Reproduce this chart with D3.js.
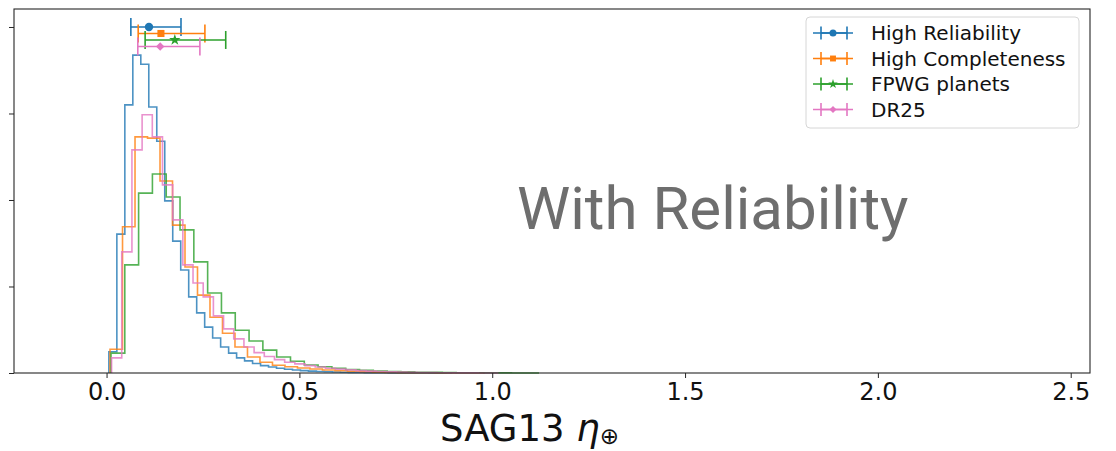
<!DOCTYPE html>
<html>
<head>
<meta charset="utf-8">
<script src="https://cdn.jsdelivr.net/npm/d3@7"></script>
<style>
  html, body { margin: 0; padding: 0; background: #fff; }
  svg { display: block; }
</style>
</head>
<body>
<svg id="chart" width="1116" height="451"></svg>
<script>
// Posterior distributions of SAG13 eta-Earth for four catalogue choices
const seriesNames = ["High Reliability", "High Completeness", "FPWG planets", "DR25"];
const seriesColors = ["#1f77b4", "#ff7f0e", "#2ca02c", "#e377c2"];

// histogram bins: first edge and width per series (eta units)
const binStart = [0.006, 0.009, 0.0115, 0.013];
const binWidth = [0.0207, 0.0324, 0.0358, 0.0264];

// normalised histogram heights (probability density)
const densHighReliability = [0.49, 3.21, 6.20, 7.35, 7.14, 6.15, 5.36, 3.98, 3.05, 2.38, 1.76, 1.39, 1.06, 0.81,
  0.60, 0.46, 0.35, 0.28, 0.22, 0.17, 0.14, 0.11, 0.086, 0.069, 0.055, 0.044, 0.035, 0.028, 0.022, 0.017,
  0.014, 0.010, 0.008, 0.006, 0.005, 0.003, 0.003, 0.002, 0.002, 0.001, 0.001, 0.001, 0.0];
const densHighCompleteness = [0.55, 3.38, 5.46, 5.43, 4.44, 3.42, 2.45, 1.80, 1.29, 0.92, 0.60, 0.37, 0.25,
  0.18, 0.146, 0.116, 0.092, 0.069, 0.053, 0.039, 0.028, 0.021, 0.014, 0.009, 0.007, 0.005, 0.003, 0.002, 0.001, 0.0];
const densFPWG = [0.46, 2.50, 4.16, 4.60, 4.07, 3.31, 2.57, 1.85, 1.39, 0.99, 0.74, 0.53, 0.37, 0.27, 0.185,
  0.146, 0.109, 0.081, 0.062, 0.046, 0.035, 0.025, 0.018, 0.014, 0.010, 0.007, 0.005, 0.003, 0.002, 0.001, 0.0];
const densDR25 = [0.35, 2.80, 5.16, 5.97, 5.46, 4.35, 3.54, 2.50, 2.08, 1.76, 1.32, 1.02, 0.79, 0.60, 0.47,
  0.38, 0.31, 0.25, 0.21, 0.17, 0.14, 0.11, 0.09, 0.072, 0.055, 0.044, 0.035, 0.025, 0.020, 0.015, 0.012,
  0.009, 0.006, 0.004, 0.003, 0.002, 0.001, 0.0];
const densities = [densHighReliability, densHighCompleteness, densFPWG, densDR25];

// median and credible interval of eta-Earth per series, drawn as error bars
const etaMedian = [0.110, 0.141, 0.177, 0.139];
const etaLow = [0.063, 0.082, 0.100, 0.081];
const etaHigh = [0.193, 0.255, 0.309, 0.242];
const errLevel = [8.0, 7.85, 7.7, 7.55];
const markerShapes = ["circle", "square", "star", "diamond"];

// axis ticks
const xTicks = [0.0, 0.5, 1.0, 1.5, 2.0, 2.5];
const yTicks = [0, 2, 4, 6, 8];

const svg = d3.select("#chart");
const plot = { left: 14, right: 1090, top: 9, bottom: 373 };

const x = d3.scaleLinear().domain([-0.24, 2.55]).range([plot.left, plot.right]);
const y = d3.scaleLinear().domain([0, 8.416]).range([plot.bottom, plot.top]);

// step outlines (histtype="step")
const stepLine = d3.line().x(d => x(d[0])).y(d => y(d[1]));
function stepPoints(start, width, heights) {
  const pts = [[start, 0]];
  heights.forEach((h, i) => {
    pts.push([start + i * width, h]);
    pts.push([start + (i + 1) * width, h]);
  });
  pts.push([start + heights.length * width, 0]);
  return pts;
}

const hist = svg.append("g");
densities.forEach((dens, i) => {
  hist.append("path")
    .attr("d", stepLine(stepPoints(binStart[i], binWidth[i], dens)))
    .attr("fill", "none")
    .attr("stroke", seriesColors[i])
    .attr("stroke-opacity", 0.8)
    .attr("stroke-width", 1.6)
    .attr("stroke-linejoin", "miter");
});

// marker symbols
function symbolFor(shape, size) {
  if (shape === "circle") return d3.symbol().type(d3.symbolCircle).size(size)();
  if (shape === "square") return d3.symbol().type(d3.symbolSquare).size(size)();
  if (shape === "star") return d3.symbol().type(d3.symbolStar).size(size)();
  return d3.symbol().type(d3.symbolSquare).size(size)();
}
const markerSize = [55, 50, 40, 36];

function drawErrorbar(g, cx, lo, hi, cy, capHalf, i, scaleMarker) {
  g.append("line").attr("x1", lo).attr("x2", hi).attr("y1", cy).attr("y2", cy)
    .attr("stroke", seriesColors[i]).attr("stroke-width", 1.6);
  [lo, hi].forEach(px => {
    g.append("line").attr("x1", px).attr("x2", px).attr("y1", cy - capHalf).attr("y2", cy + capHalf)
      .attr("stroke", seriesColors[i]).attr("stroke-width", 1.6);
  });
  g.append("path")
    .attr("d", symbolFor(markerShapes[i], markerSize[i] * scaleMarker))
    .attr("transform", `translate(${cx},${cy})` + (markerShapes[i] === "diamond" ? " rotate(45)" : ""))
    .attr("fill", seriesColors[i]);
}

const errs = svg.append("g");
etaMedian.forEach((m, i) => {
  drawErrorbar(errs, x(m), x(etaLow[i]), x(etaHigh[i]), y(errLevel[i]), 9, i, 1);
});

// frame
svg.append("rect")
  .attr("x", plot.left).attr("y", plot.top)
  .attr("width", plot.right - plot.left).attr("height", plot.bottom - plot.top)
  .attr("fill", "none").attr("stroke", "#262626").attr("stroke-width", 1.1);

// axes
const xAxis = svg.append("g")
  .attr("transform", `translate(0,${plot.bottom})`)
  .call(d3.axisBottom(x).tickValues(xTicks).tickFormat(d3.format(".1f")).tickSize(5).tickPadding(5));
xAxis.select(".domain").remove();
xAxis.selectAll("line").attr("stroke", "#262626");
xAxis.selectAll("text")
  .attr("font-family", "DejaVu Sans")
  .attr("font-size", 24)
  .attr("fill", "#111");

const yAxis = svg.append("g")
  .attr("transform", `translate(${plot.left},0)`)
  .call(d3.axisLeft(y).tickValues(yTicks).tickFormat("").tickSize(5));
yAxis.select(".domain").remove();
yAxis.selectAll("line").attr("stroke", "#262626");

// axis title: SAG13 eta with Earth subscript
const title = svg.append("text")
  .attr("x", 440).attr("y", 441)
  .attr("font-family", "DejaVu Sans")
  .attr("font-size", 37)
  .attr("fill", "#111");
title.append("tspan").text("SAG13 ");
title.append("tspan").attr("font-style", "italic").text("η");
title.append("tspan").attr("font-size", 23).attr("dy", 3).text("⊕");

// annotation
svg.append("text")
  .attr("x", 517).attr("y", 229)
  .attr("font-family", "Roboto")
  .attr("font-size", 60)
  .attr("fill", "#6e6e6e")
  .text("With Reliability");

// legend
const legend = svg.append("g");
legend.append("rect")
  .attr("x", 806).attr("y", 17).attr("width", 273).attr("height", 111)
  .attr("rx", 4).attr("fill", "#fff").attr("fill-opacity", 0.85)
  .attr("stroke", "#d6d6d6").attr("stroke-width", 1);
seriesNames.forEach((name, i) => {
  const cy = 33 + i * 25.5;
  drawErrorbar(legend, 833, 821, 847, cy, 6.5, i, 0.7);
  legend.append("line").attr("x1", 813).attr("x2", 853).attr("y1", cy).attr("y2", cy)
    .attr("stroke", seriesColors[i]).attr("stroke-width", 1.4);
  legend.append("text")
    .attr("x", 871).attr("y", cy + 7)
    .attr("font-family", "DejaVu Sans")
    .attr("font-size", 20)
    .attr("fill", "#111")
    .text(name);
});
</script>
</body>
</html>
